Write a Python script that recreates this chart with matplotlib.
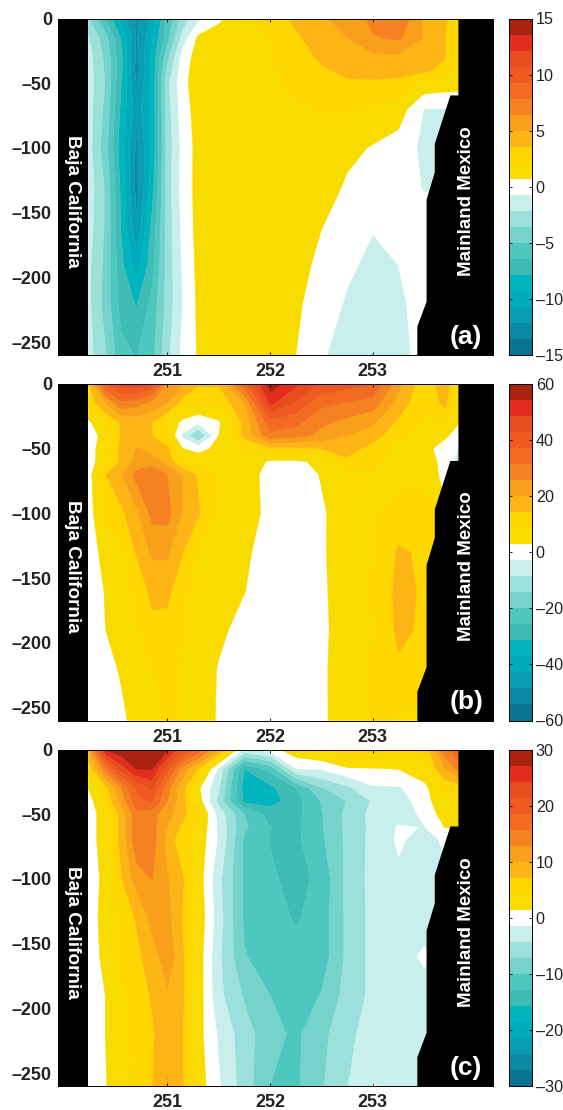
import numpy as np
import matplotlib
matplotlib.use('Agg')
import matplotlib.pyplot as plt

plt.rcParams['font.family'] = ['Liberation Sans', 'DejaVu Sans']

lon = [250.23, 250.4, 250.55, 250.7, 250.85, 251.0, 251.15, 251.3, 251.5, 251.75,
       252.0, 252.25, 252.5, 252.75, 253.0, 253.25, 253.5, 253.7, 253.84]
depth = [0, -15, -30, -40, -50, -60, -70, -100, -130, -160, -190, -220, -260]

# sill/bottom outline on the mainland side
land_lon = [253.84, 253.84, 253.76, 253.61, 253.61, 253.53, 253.53, 253.44, 253.44]
land_depth = [0, -60, -60, -97, -119, -140, -219, -238, -260]

vel_a = [
    [-3.5, -6.5, -10, -12.5, -10.5, -6, -3, -1, 0.4, 2, 2.5, 4, 4.9, 5.3, 6.9, 7.8, 4.8, 3.7, 2.5],
    [-2, -4.5, -8, -12.3, -9.5, -5.5, -1.5, 1, 1.5, 2, 2.2, 3.3, 4.4, 5, 6.3, 6.7, 4.9, 3.7, 2],
    [-1.5, -4, -7.5, -12.5, -9, -4, 0, 1.3, 1.8, 1.8, 2, 3, 3.8, 4.2, 4.7, 4.7, 4.2, 3.7, 2],
    [-1.5, -3.8, -7.5, -12.8, -9, -3.2, 0.2, 1.4, 1.8, 1.8, 2, 2.8, 3.4, 3.9, 4, 4, 3.9, 3, 1.8],
    [-1.5, -3.7, -7.8, -12.2, -9, -2.5, 0.3, 1.5, 1.8, 1.8, 2, 2.5, 3, 3.4, 3.4, 3.3, 1.8, 1.6, 1.5],
    [-1.5, -3.8, -8, -11.8, -9, -2.6, 0.2, 1.4, 1.8, 1.8, 2, 2.2, 2.6, 2.8, 2.6, 2.4, 0.5, 0.3, 0.3],
    [-1.5, -4, -8.2, -11.5, -9, -2.8, 0.1, 1.3, 1.8, 1.9, 2, 2, 2.2, 2.2, 1.9, 1.5, -0.75, -0.75, -0.7],
    [-1.5, -4.5, -8.7, -12.5, -9, -3, -0.2, 1.2, 1.8, 1.9, 2, 2, 1.8, 1.1, 0.6, 0, -1, -1, -1],
    [-1.3, -3.8, -8.2, -12.7, -8.5, -2.8, -0.1, 1.2, 1.8, 1.9, 2, 1.9, 1.5, 0.5, 0.3, -0.1, -0.8, -0.8, -0.8],
    [-1.5, -3.8, -8, -12, -7.5, -3, -0.3, 1.2, 1.8, 1.9, 2, 1.6, 0.75, 0.3, -0.6, 0, -0.2, -0.2, -0.2],
    [-1.8, -4, -7.5, -10, -7, -3, -0.5, 1.1, 1.8, 1.9, 1.9, 1.2, 0.4, -0.4, -1.1, -0.7, 0, 0, 0],
    [-1.8, -4.2, -7, -8, -6, -3, -0.7, 1, 1.8, 1.9, 1.7, 0.9, 0.2, -0.9, -1.4, -0.9, -0.3, -0.3, -0.3],
    [-1.6, -3.5, -6, -6.5, -5.5, -2.5, -0.3, 0.85, 1.8, 1.9, 1.6, 0.72, -0.55, -1.3, -2.2, -1, -0.4, -0.4, -0.4],
]

vel_b = [
    [14, 38, 45, 47, 42, 25, 20, 15, 15, 35, 58, 50, 42, 40, 37, 22, 10, 18, 8],
    [10, 20, 30, 28, 24, 20, 12, 9, 9.5, 20, 50, 42, 33, 31, 29, 18, 9, 16, 5],
    [1.5, 9, 15, 16, 14.5, 8, 1, -2, 2, 16, 35, 33, 27, 24, 21, 13, 8, 9, 3],
    [-1, 6, 15, 15.5, 14.5, 9, -4, -15, 2.9, 16, 30, 28, 24, 20, 17, 10, 6, 4, 0],
    [-1, 8, 15.5, 20.5, 17, 15.5, 3, 1.5, 4, 9.5, 13, 13, 14.5, 17, 12, 7, 5, 0, -3],
    [0, 7, 15.5, 22, 24, 18, 8, 5.5, 6, 7, 2, 2, 4, 13, 10, 7, 6, 1, -5],
    [0, 14.3, 19.5, 28, 29, 25.7, 20, 13.5, 8, 6, 0.5, 0, 3.2, 6, 8, 7, 7, 1, 1],
    [0, 10, 13, 19, 27.5, 28, 19.5, 15, 8, 6, 1, 0, 2.2, 5.5, 8, 11, 13.5, 4, 4],
    [0, 5, 8, 15, 21, 21, 14.5, 8.5, 7, 4, 0, 0, 2, 6.5, 8.5, 15, 13.5, 8, 8],
    [0, 3.2, 6, 10, 16, 16, 10, 7, 7, 3, 0, 0, 1.5, 7, 9, 16, 13.6, 10, 10],
    [0, 2.9, 7, 8, 12.5, 12, 8.5, 7, 4, 1, 0, 0, 1.5, 6, 8.5, 15.5, 13.4, 8, 8],
    [0, 1, 3.5, 6, 8.5, 9, 8.5, 6, 2.5, 0, 0, 0, 1.5, 7, 9, 13.5, 12, 8, 8],
    [0, 0, 1.5, 5, 8, 9, 8.5, 5.5, 2.3, 0, 0, 0, 1.8, 6, 9, 8, 7, 7, 7],
]

vel_c = [
    [10, 28, 29.5, 29.5, 29.5, 28, 22, 18, 10, -2, 0, 3.5, 5, 7.5, 7.5, 5, 5, 15, 18],
    [5, 15, 23, 27.5, 27.4, 20, 12, 7, -2, -15.7, -12, -1.5, -1.2, 1, 1.2, 1.5, 3.5, 10, 14],
    [1.5, 6, 13, 19, 22, 14, 8, 2, -4, -17, -16.5, -13, -7.5, -5, -1.8, -1.8, 0.5, 5, 5],
    [0, 5, 11, 18, 19, 13, 8, 3, -5, -16.5, -17, -14, -9.8, -7, -4, -2.8, 0, 4, 4],
    [-0.5, 3.5, 8, 15, 14, 11, 8, 5, -2.5, -10, -14, -13.8, -10.2, -6.4, -3.4, -2.5, -1, 3, 3],
    [-0.5, 3.5, 8, 15, 14, 10, 6.5, 4, -2, -9.5, -12.8, -13.5, -10.3, -6.5, -3.5, -1.2, -1.5, 1.5, 2],
    [-0.5, 3.5, 8, 15, 14.5, 9, 5, 3.4, -1.8, -10.5, -13, -13.5, -10.5, -6.5, -3.4, -1, -2.5, -1, -1],
    [-0.5, 2.5, 7, 11.5, 13, 10.3, 7.5, 3, -3.5, -10.5, -12.3, -14, -12, -6.3, -3.4, -2, -2, -2, -2],
    [-0.5, 3, 5, 7.5, 11, 11, 7, 3.5, -3, -10.5, -11.5, -13.2, -11.5, -6.5, -3.4, -2, -2, -2, -2],
    [-0.5, 2.5, 4.5, 6.5, 8.5, 12, 7.5, 3, -3.7, -9.8, -11.5, -11.5, -11.5, -6.5, -3.4, -2, -1.2, -2, -2],
    [-0.5, 1.5, 4, 5.5, 7.5, 9.5, 7.5, 3, -3.5, -7.5, -10, -11, -9.9, -6, -3.6, -2, -2, -2, -2],
    [-0.5, 1.5, 3.5, 5, 6.8, 9, 7.2, 2.5, -1.8, -5.9, -9, -10.6, -8, -5, -3, -2, -2, -2, -2],
    [-0.5, 1.3, 3.2, 4.8, 7, 10.3, 7.3, 3, -1.1, -5.7, -10, -10.5, -7.5, -4.4, -1.3, -2, -2, -2, -2],
]

band_colors = ['#0b7390', '#0a8aa3', '#0a9cb0', '#00acbc', '#00b5c0',
               '#3fbcb4', '#4ec8bf', '#76d3cb', '#9be0da', '#c8efeb',
               '#ffffff',
               '#f8dc00', '#ffd700', '#fcb514', '#f9a01b', '#f58220',
               '#f26b21', '#ee5a20', '#e84e1c', '#e32d1f', '#a9230f']

panels = [('(a)', vel_a, 15, [-15, -10, -5, 0, 5, 10, 15]),
          ('(b)', vel_b, 60, [-60, -40, -20, 0, 20, 40, 60]),
          ('(c)', vel_c, 30, [-30, -20, -10, 0, 10, 20, 30])]
tops = [18.5, 384, 749.5]
W, H = 563, 1110
ax_h = 336.5

fig = plt.figure(figsize=(W / 100, H / 100), dpi=100)

for (tag, vel, vmax, cticks), top in zip(panels, tops):
    bottom = 1 - (top + ax_h) / H
    ax = fig.add_axes([57.5 / W, bottom, 435.5 / W, ax_h / H])
    cax = fig.add_axes([508.7 / W, bottom, 23 / W, ax_h / H])

    levels = np.linspace(-vmax, vmax, 22)
    ax.set_facecolor('black')
    ax.fill_between([lon[0], lon[-1]], -260, 0, color='white', lw=0, zorder=0)
    cf = ax.contourf(lon, depth, np.array(vel), levels=levels, colors=band_colors, antialiased=True)
    cf.set_edgecolor('face')
    cf.set_linewidth(0.3)
    ax.fill(land_lon + [254.2, 254.2], land_depth + [-260, 0], color='black', zorder=3)

    ax.set_xlim(249.93, 254.17)
    ax.set_ylim(-260, 0)
    ax.set_xticks([251, 252, 253])
    ax.set_yticks([0, -50, -100, -150, -200, -250])
    ax.set_yticklabels(['0', '–50', '–100', '–150', '–200', '–250'])
    ax.tick_params(direction='in', length=2.5, width=0.6, top=True, right=True, pad=4,
                   labelsize=13, labelcolor='#222222')
    ax.tick_params(axis='x', pad=6)
    for lab in ax.get_xticklabels() + ax.get_yticklabels():
        lab.set_fontweight('bold')
    for sp in ax.spines.values():
        sp.set_linewidth(0.7)
        sp.set_zorder(5)

    ax.text(250.08, -141, 'Baja California', color='white', rotation=-90, ha='center', va='center',
            fontsize=13.6, fontweight='bold', zorder=6)
    ax.text(253.91, -141, 'Mainland Mexico', color='white', rotation=90,
            ha='center', va='center', fontsize=13.5, fontweight='bold', zorder=6)
    ax.text(253.91, -246, tag, color='white', ha='center', va='center', fontsize=19,
            fontweight='bold', zorder=6)

    cb = fig.colorbar(cf, cax=cax)
    cb.set_ticks(cticks)
    cb.set_ticklabels([str(t).replace('-', '–') for t in cticks])
    cb.outline.set_linewidth(0.7)
    cax.tick_params(direction='in', length=2.5, width=0.6, left=True, right=True, pad=3,
                    labelsize=11.6, labelcolor='#222222')

fig.savefig('out.png', dpi=100)
